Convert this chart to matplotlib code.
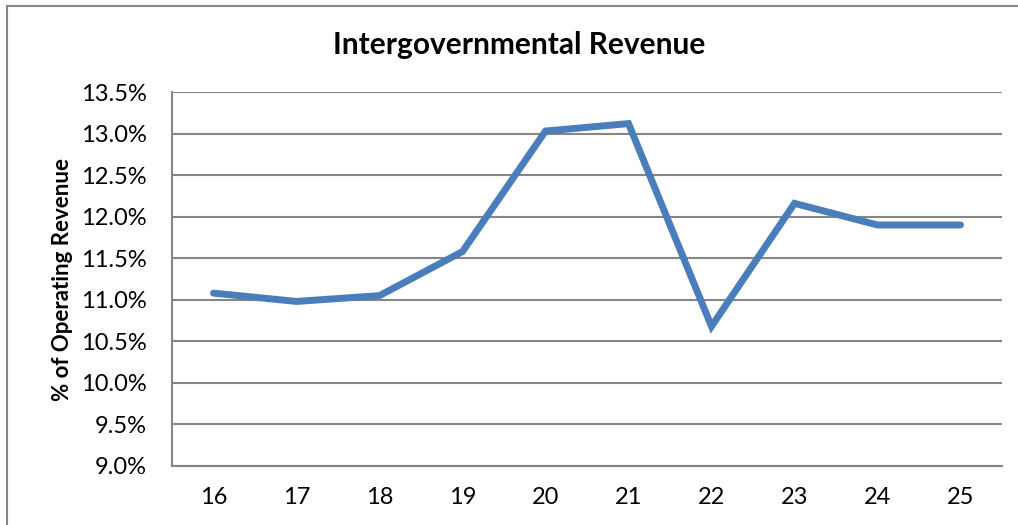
import matplotlib.pyplot as plt
from matplotlib.patches import Rectangle
from matplotlib.ticker import FuncFormatter

# chart data
years = ['16', '17', '18', '19', '20', '21', '22', '23', '24', '25']
pct_revenue = [11.08, 10.98, 11.05, 11.58, 13.03, 13.12, 10.68, 12.16, 11.90, 11.90]
y_ticks = [9.0, 9.5, 10.0, 10.5, 11.0, 11.5, 12.0, 12.5, 13.0, 13.5]

plt.rcParams['font.family'] = ['Lato', 'DejaVu Sans']
grid_col = '#868686'

fig = plt.figure(figsize=(10.18, 5.25), dpi=100)
ax = fig.add_axes([172 / 1018, 1 - 466 / 525, 830 / 1018, 374 / 525])

# outer chart frame (only top and left visible in the crop)
fig.add_artist(Rectangle((7 / 1018, -0.05), 1.1, 1 - 6 / 525 + 0.05,
                         transform=fig.transFigure, fill=False,
                         edgecolor=grid_col, linewidth=1.5))

x = list(range(len(years)))
ax.plot(x, pct_revenue, color='#4A7EBB', linewidth=5, solid_capstyle='round',
        solid_joinstyle='miter')

ax.set_xlim(-0.5, len(years) - 0.5)
ax.set_ylim(9.0, 13.5)
ax.set_xticks(x)
ax.set_xticklabels(years)
ax.set_yticks(y_ticks)
ax.yaxis.set_major_formatter(FuncFormatter(lambda v, p: '%.1f%%' % v))
ax.grid(axis='y', color=grid_col, linewidth=1.5)
ax.set_axisbelow(True)

for s in ['top', 'right']:
    ax.spines[s].set_visible(False)
for s in ['left', 'bottom']:
    ax.spines[s].set_color(grid_col)
    ax.spines[s].set_linewidth(1.5)

ax.tick_params(axis='both', length=0, labelsize=17, colors='black')
ax.tick_params(axis='y', pad=18)
ax.tick_params(axis='x', pad=15)

ax.set_ylabel('% of Operating Revenue', fontsize=16, fontweight='bold', labelpad=6)
fig.text(519 / 1018, 1 - 45 / 525, 'Intergovernmental Revenue', ha='center', va='center',
         fontsize=21.5, fontweight='bold')

fig.savefig('out.png', dpi=100)
